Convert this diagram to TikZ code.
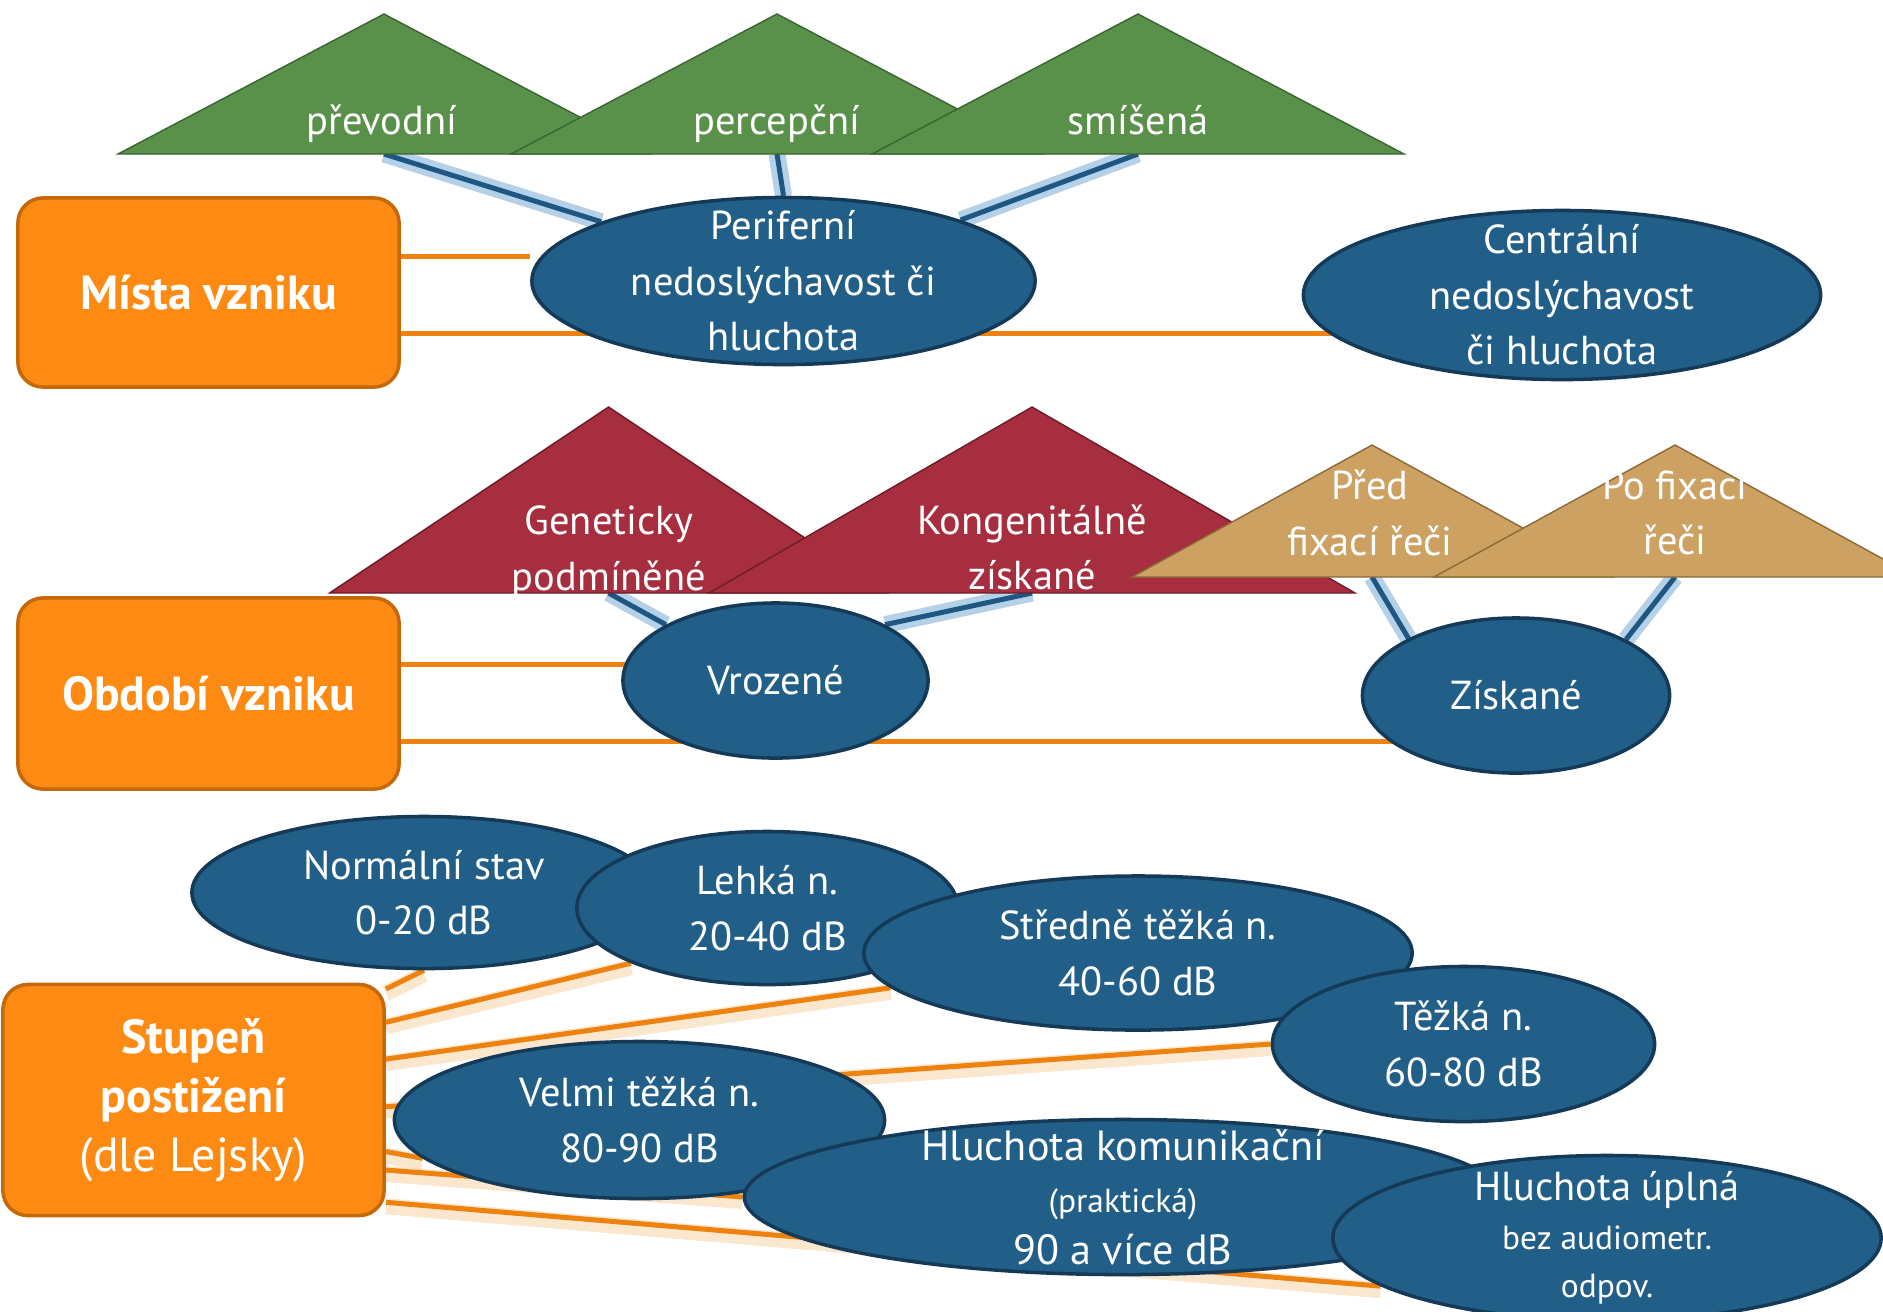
\documentclass[tikz,border=0pt]{standalone}
\usepackage{fontspec}
\setmainfont{PT Sans}
\usetikzlibrary{calc,shapes.geometric}
\definecolor{blobblue}{RGB}{34,95,136}
\definecolor{blobedge}{RGB}{20,58,88}
\definecolor{catorange}{RGB}{253,138,18}
\definecolor{catedge}{RGB}{196,104,10}
\definecolor{linkorange}{RGB}{238,130,14}
\definecolor{linkblue}{RGB}{30,88,130}
\definecolor{glowblue}{RGB}{150,190,222}
\definecolor{leafgreen}{RGB}{89,145,74}
\definecolor{leafedge}{RGB}{58,100,48}
\definecolor{winered}{RGB}{166,46,62}
\definecolor{wineedge}{RGB}{110,28,40}
\definecolor{sandtan}{RGB}{204,161,98}
\definecolor{sandedge}{RGB}{140,105,55}
\pgfdeclarelayer{back}
\pgfsetlayers{back,main}
\def\roof[#1](#2)(#3:#4){\draw[#1] ($(#2)+(-#3,0)$) -- ($(#2)+(0,-#4)$) -- ($(#2)+(#3,0)$) -- cycle;}
\def\subsz{\fontsize{9.5}{14}\selectfont}

\begin{document}
\begin{tikzpicture}[x=0.01cm, y=-0.01cm,
	blob/.style={ellipse, fill=blobblue, draw=blobedge, line width=1pt, text=white, align=center, inner sep=-0.3cm, font=\fontsize{11.5}{15.8}\selectfont},
	catbox/.style={rectangle, rounded corners=0.25cm, fill=catorange, draw=catedge, line width=1pt, text=white, align=center, minimum width=3.81cm, font=\bfseries\fontsize{13.6}{16.8}\selectfont},
	trilabel/.style={text=white, align=center, inner sep=0pt, font=\fontsize{11.5}{15.8}\selectfont},
	orangeline/.style={draw=linkorange, line width=0.05cm},
	glowline/.style={orangeline, preaction={draw=linkorange!45, line width=0.16cm, opacity=0.45, transform canvas={yshift=-0.04cm}}},
	bluelink/.style={draw=linkblue, line width=0.05cm, preaction={draw=glowblue, line width=0.17cm, opacity=0.7}}]
		%%%%% START %%%%%
		\useasboundingbox (0,0) rectangle (1883,1311);
		
		%% misto vzniku
		\node[catbox, minimum height=1.89cm] (mista) at (208.5,292.5) {Místa vzniku};
		\node[blob, minimum width=5.03cm, minimum height=1.67cm] (peri) at (783.5,281) {Periferní\\nedoslýchavost či\\hluchota};
		\node[blob, minimum width=5.17cm, minimum height=1.69cm] (centr) at (1562,295) {Centrální\\nedoslýchavost\\či hluchota};
		
		\coordinate (prevod) at (384,154);
		\coordinate (percep) at (777,154);
		\coordinate (smis) at (1138,154);
		\roof[fill=leafgreen, draw=leafedge](prevod)(266:140)
		\roof[fill=leafgreen, draw=leafedge](percep)(266:140)
		\roof[fill=leafgreen, draw=leafedge](smis)(266:140)
		\node[trilabel] (prevodtxt) at (382,124) {převodní};
		\node[trilabel] (perceptxt) at (777,124) {percepční};
		\node[trilabel] (smistxt) at (1138,120) {smíšená};
		
		\begin{pgfonlayer}{back}
		\draw[orangeline] ([yshift=0.355cm]mista.east) -- ([yshift=0.355cm]mista.east -| peri.west);
		\draw[orangeline] ([yshift=-0.405cm]mista.east) -- ([yshift=-0.405cm]mista.east -| centr.center);
		\draw[bluelink] (prevod) -- (peri.162);
		\draw[bluelink] (percep) -- (peri.north);
		\draw[bluelink] (smis) -- (peri.19);
		\end{pgfonlayer}
		
		%% obdobi vzniku
		\node[catbox, minimum height=1.91cm] (obdobi) at (208.5,693.5) {Období vzniku};
		\node[blob, minimum width=3.05cm, minimum height=1.55cm] (vroz) at (775.5,680.5) {Vrozené};
		\node[blob, minimum width=3.07cm, minimum height=1.55cm] (zisk) at (1516,695.5) {Získané};
		
		\coordinate (genet) at (608.5,593);
		\coordinate (kong) at (1032,593);
		\coordinate (predfix) at (1372,577);
		\coordinate (pofix) at (1675,577);
		\roof[fill=winered, draw=wineedge](genet)(279:186)
		\roof[fill=winered, draw=wineedge](kong)(323:186)
		\roof[fill=sandtan, draw=sandedge](predfix)(240:132)
		\roof[fill=sandtan, draw=sandedge](pofix)(241:132)
		\node[trilabel] (genettxt) at (609,552) {Geneticky\\podmíněné};
		\node[trilabel] (kongtxt) at (1032,547.5) {Kongenitálně\\získané};
		\node[trilabel] (predfixtxt) at (1370,513) {Před\\fixací řeči};
		\node[trilabel] (pofixtxt) at (1675,513) {Po fixaci\\řeči};
		
		\begin{pgfonlayer}{back}
		\draw[orangeline] ([yshift=0.295cm]obdobi.east) -- ([yshift=0.295cm]obdobi.east -| vroz.center);
		\draw[orangeline] ([yshift=-0.475cm]obdobi.east) -- ([yshift=-0.475cm]obdobi.east -| zisk.center);
		\draw[bluelink] (genet) -- (vroz.153);
		\draw[bluelink] (kong) -- (vroz.27);
		\draw[bluelink] (predfix) -- (zisk.152);
		\draw[bluelink] (pofix) -- (zisk.27);
		\end{pgfonlayer}
		
		%% stupen postizeni
		\node[catbox, minimum height=2.31cm] (stup) at (193.5,1100) {Stupeň\\postižení\\{\mdseries (dle Lejsky)}};
		\node[blob, minimum width=4.64cm, minimum height=1.52cm] (norm) at (424,892.5) {Normální stav\\0-20 dB};
		\node[blob, minimum width=3.81cm, minimum height=1.53cm] (lehka) at (767.5,908) {Lehká n.\\20-40 dB};
		\node[blob, minimum width=5.48cm, minimum height=1.54cm] (sred) at (1138,953) {Středně těžká n.\\40-60 dB};
		\node[blob, minimum width=3.82cm, minimum height=1.55cm] (tezka) at (1463.5,1044) {Těžká n.\\60-80 dB};
		\node[blob, minimum width=4.90cm, minimum height=1.57cm] (velmi) at (639.5,1120) {Velmi těžká n.\\80-90 dB};
		\node[blob, minimum width=7.57cm, minimum height=1.55cm, font=\fontsize{12}{14.8}\selectfont] (hk) at (1123,1197) {Hluchota komunikační\\{\subsz (praktická)}\\90 a více dB};
		\node[blob, minimum width=5.48cm, minimum height=1.65cm, font=\fontsize{11.5}{13.8}\selectfont] (hu) at (1607,1238) {Hluchota úplná\\{\subsz bez audiometr.}\\{\subsz odpov.}};
		
		\begin{pgfonlayer}{back}
		\draw[glowline] (stup.30) -- (norm.south);
		\draw[glowline] (stup.22) -- (lehka.202);
		\draw[glowline] (stup.12) -- (sred.188);
		\draw[glowline] (stup.358) -- (tezka.west);
		\draw[glowline] (stup.345) -- (velmi.190);
		\draw[glowline] (stup.340) -- (hk.west);
		\draw[glowline] (stup.332) -- (hu.192);
		\end{pgfonlayer}
		%%%%% END %%%%%
\end{tikzpicture}
\end{document}
